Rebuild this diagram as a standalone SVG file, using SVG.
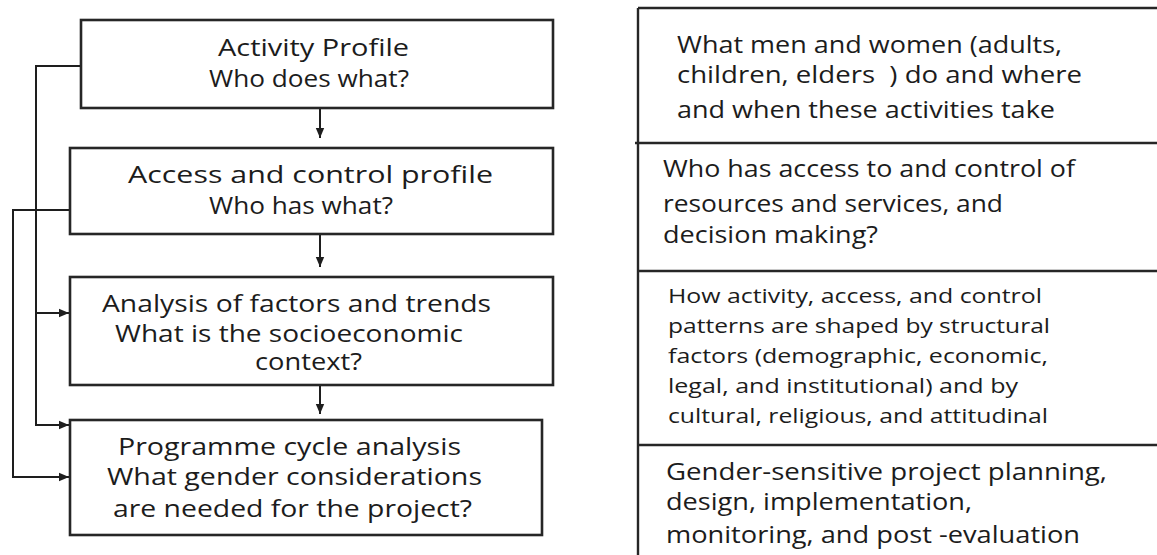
<svg xmlns="http://www.w3.org/2000/svg" width="1157" height="555" viewBox="0 0 1157 555">
  <defs>
    <marker id="arrow" viewBox="0 0 10 10" refX="10" refY="5" markerWidth="10" markerHeight="10" markerUnits="userSpaceOnUse" orient="auto">
      <path d="M0,0.8 L10,5 L0,9.2 Z" fill="#1e1e1e"/>
    </marker>
    <style>
      .box { fill: #ffffff; stroke: #262626; stroke-width: 2.6; }
      .rule { stroke: #262626; stroke-width: 2.4; fill: none; }
      .link { stroke: #1e1e1e; stroke-width: 2; fill: none; }
      .t { font-family: "Open Sans", "Noto Sans", "DejaVu Sans", sans-serif; fill: #1c1c1c; }
      .lg { font-size: 24px; }
      .md { font-size: 24px; }
      .sm { font-size: 20.5px; }
    </style>
  </defs>
  <rect width="1157" height="555" fill="#ffffff"/>

  <!-- connectors -->
  <g id="connectors">
    <path class="link" d="M320,108 V138" marker-end="url(#arrow)"/>
    <path class="link" d="M320,234 V267" marker-end="url(#arrow)"/>
    <path class="link" d="M320,385 V414" marker-end="url(#arrow)"/>
    <path class="link" d="M81,66 H36 V425 H69" marker-end="url(#arrow)"/>
    <path class="link" d="M36,313 H69" marker-end="url(#arrow)"/>
    <path class="link" d="M70,210 H13 V477 H69" marker-end="url(#arrow)"/>
  </g>

  <!-- left column: analysis steps -->
  <g id="activity-profile">
    <rect class="box" x="81" y="20" width="472" height="88"/>
    <text class="t lg" x="218" y="56" textLength="191" lengthAdjust="spacingAndGlyphs">Activity Profile</text>
    <text class="t lg" x="209" y="87" textLength="200" lengthAdjust="spacingAndGlyphs">Who does what?</text>
  </g>
  <g id="access-control-profile">
    <rect class="box" x="70" y="148" width="483" height="86"/>
    <text class="t lg" x="128" y="183" textLength="365" lengthAdjust="spacingAndGlyphs">Access and control profile</text>
    <text class="t lg" x="209" y="214" textLength="184" lengthAdjust="spacingAndGlyphs">Who has what?</text>
  </g>
  <g id="factors-trends">
    <rect class="box" x="70" y="277" width="483" height="108"/>
    <text class="t lg" x="102" y="312" textLength="389" lengthAdjust="spacingAndGlyphs">Analysis of factors and trends</text>
    <text class="t lg" x="115" y="342" textLength="348" lengthAdjust="spacingAndGlyphs">What is the socioeconomic</text>
    <text class="t lg" x="255" y="370" textLength="107" lengthAdjust="spacingAndGlyphs">context?</text>
  </g>
  <g id="programme-cycle">
    <rect class="box" x="70" y="420" width="472" height="115"/>
    <text class="t lg" x="118" y="455" textLength="343" lengthAdjust="spacingAndGlyphs">Programme cycle analysis</text>
    <text class="t lg" x="107" y="485" textLength="375" lengthAdjust="spacingAndGlyphs">What gender considerations</text>
    <text class="t lg" x="113" y="517" textLength="359" lengthAdjust="spacingAndGlyphs">are needed for the project?</text>
  </g>

  <!-- right column: description table -->
  <g id="description-table">
    <path class="rule" d="M638,8 H1157 M638,8 V555 M635,143 H1157 M638,271 H1157 M638,445 H1157"/>
  </g>
  <g id="desc-activity">
    <text class="t md" x="677" y="53" textLength="385" lengthAdjust="spacingAndGlyphs">What men and women (adults,</text>
    <text class="t md" x="677" y="83" textLength="405" lengthAdjust="spacingAndGlyphs" style="white-space:pre">children, elders  ) do and where</text>
    <text class="t md" x="677" y="118" textLength="378" lengthAdjust="spacingAndGlyphs">and when these activities take</text>
  </g>
  <g id="desc-access">
    <text class="t md" x="663" y="177" textLength="412" lengthAdjust="spacingAndGlyphs">Who has access to and control of</text>
    <text class="t md" x="663" y="212" textLength="340" lengthAdjust="spacingAndGlyphs">resources and services, and</text>
    <text class="t md" x="663" y="243" textLength="215" lengthAdjust="spacingAndGlyphs">decision making?</text>
  </g>
  <g id="desc-factors">
    <text class="t sm" x="668" y="303" textLength="374" lengthAdjust="spacingAndGlyphs">How activity, access, and control</text>
    <text class="t sm" x="668" y="333" textLength="382" lengthAdjust="spacingAndGlyphs">patterns are shaped by structural</text>
    <text class="t sm" x="668" y="363" textLength="380" lengthAdjust="spacingAndGlyphs">factors (demographic, economic,</text>
    <text class="t sm" x="668" y="393" textLength="350" lengthAdjust="spacingAndGlyphs">legal, and institutional) and by</text>
    <text class="t sm" x="668" y="423" textLength="380" lengthAdjust="spacingAndGlyphs">cultural, religious, and attitudinal</text>
  </g>
  <g id="desc-programme">
    <text class="t md" x="666" y="480" textLength="441" lengthAdjust="spacingAndGlyphs">Gender-sensitive project planning,</text>
    <text class="t md" x="666" y="510" textLength="306" lengthAdjust="spacingAndGlyphs">design, implementation,</text>
    <text class="t md" x="666" y="543" textLength="414" lengthAdjust="spacingAndGlyphs">monitoring, and post -evaluation</text>
  </g>
</svg>
